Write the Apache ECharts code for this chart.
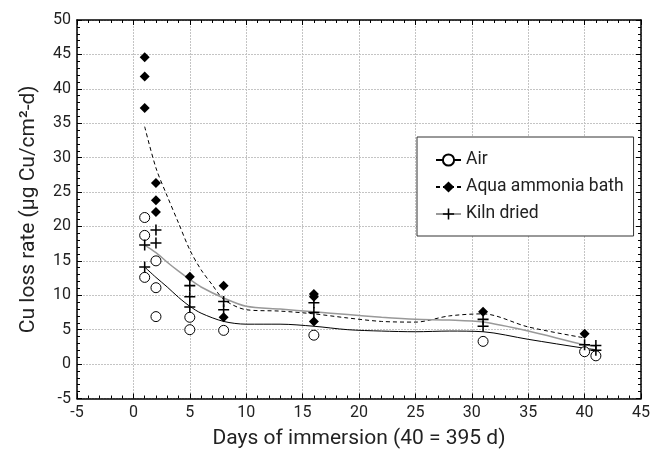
<!DOCTYPE html>
<html>
<head>
<meta charset="utf-8">
<script src="https://cdn.jsdelivr.net/npm/echarts@6/dist/echarts.min.js"></script>
<style>
  html, body { margin: 0; padding: 0; background: #fff; }
  #chart { width: 653px; height: 458px; }
</style>
</head>
<body>
<div id="chart"></div>
<script>
// measured points (days, rate)
const airDays = [1, 1, 1, 2, 2, 2, 5, 5, 8, 16, 31, 40, 41];
const airRate = [21.3, 18.7, 12.6, 15.0, 11.1, 6.9, 6.8, 5.0, 4.9, 4.2, 3.3, 1.8, 1.2];
const aquaDays = [1, 1, 1, 2, 2, 2, 5, 8, 8, 16, 16, 16, 31, 40];
const aquaRate = [44.6, 41.8, 37.2, 26.3, 23.8, 22.1, 12.7, 11.4, 6.8, 10.2, 9.8, 6.2, 7.6, 4.4];
const kilnDays = [1, 1, 2, 2, 5, 5, 5, 8, 8, 16, 16, 31, 31, 40, 41, 41];
const kilnRate = [17.3, 14.1, 19.5, 17.6, 11.4, 9.8, 8.3, 9.1, 7.9, 8.9, 7.5, 6.5, 5.5, 2.8, 2.7, 2.0];

// fitted curves
const fitDays = [1, 2, 3, 4, 5, 6, 8, 10, 13, 16, 19, 22, 25, 28, 31, 35, 40, 41];
const airFit = [14.1, 12.6, 11.2, 9.7, 8.4, 7.4, 6.2, 5.8, 5.8, 5.5, 5.0, 4.8, 4.7, 4.8, 4.7, 3.6, 2.3, 2.1];
const kilnFit = [17.3, 16.2, 14.8, 13.5, 12.3, 11.2, 9.6, 8.4, 8.0, 7.6, 7.2, 6.8, 6.5, 6.4, 6.1, 4.8, 2.8, 2.6];
const aquaFitDays = [1, 2, 3, 4, 5, 6, 7, 8, 10, 13, 16, 19, 22, 25, 28, 31, 35, 40];
const aquaFit = [34.5, 28.5, 24.4, 20.5, 16.6, 13.7, 11.5, 9.4, 7.9, 7.7, 7.3, 6.7, 6.2, 6.1, 7.0, 7.3, 5.4, 3.8];

const seriesNames = ["Air", "Aqua ammonia bath", "Kiln dried"];

const font = "Roboto, 'Liberation Sans', sans-serif";
const crossPath = "path://M4.3,0H5.7V4.3H10V5.7H5.7V10H4.3V5.7H0V4.3H4.3Z";

const pairs = (xs, ys) => xs.map((x, i) => [x, ys[i]]);

const axisLine = { show: true, onZero: false, lineStyle: { color: "#000", width: 1.5 } };
const axisTick = { show: true, inside: true, length: 5, lineStyle: { color: "#000" } };
const minorTick = { show: true, splitNumber: 5, length: 3, lineStyle: { color: "#000" } };
const gridLine = { show: true, lineStyle: { color: "#c4c4c4", type: [2, 1] } };
const tickLabel = { fontFamily: font, fontSize: 16, color: "#222", margin: 6 };
const nameStyle = { fontFamily: font, fontSize: 21, color: "#222" };

const frameAxis = {
  type: "value",
  axisLine: axisLine,
  axisTick: axisTick,
  minorTick: minorTick,
  splitLine: { show: false },
  axisLabel: { show: false }
};

const option = {
  animation: false,
  textStyle: { fontFamily: font },
  grid: { left: 77, right: 12, top: 20, bottom: 59.5 },
  legend: {
    orient: "vertical",
    left: 417,
    top: 137,
    padding: [14, 10, 13, 18],
    itemWidth: 25,
    itemHeight: 14,
    itemGap: 9,
    borderColor: "#333",
    borderWidth: 1,
    backgroundColor: "#fff",
    textStyle: { fontFamily: font, fontSize: 17.5, color: "#222" },
    data: seriesNames
  },
  xAxis: [
    {
      type: "value",
      min: -5,
      max: 45,
      interval: 5,
      name: "Days of immersion (40 = 395 d)",
      nameLocation: "middle",
      nameGap: 30,
      nameTextStyle: nameStyle,
      axisLine: axisLine,
      axisTick: axisTick,
      minorTick: minorTick,
      splitLine: gridLine,
      axisLabel: tickLabel
    },
    Object.assign({}, frameAxis, { position: "top", min: -5, max: 45, interval: 5 })
  ],
  yAxis: [
    {
      type: "value",
      min: -5,
      max: 50,
      interval: 5,
      name: "Cu loss rate (µg Cu/cm²-d)",
      nameLocation: "middle",
      nameGap: 38,
      nameTextStyle: nameStyle,
      axisLine: axisLine,
      axisTick: axisTick,
      minorTick: minorTick,
      splitLine: gridLine,
      axisLabel: tickLabel
    },
    Object.assign({}, frameAxis, { position: "right", min: -5, max: 50, interval: 5 })
  ],
  series: [
    {
      name: "Air",
      type: "line",
      smooth: 0.3,
      showSymbol: false,
      symbol: "circle",
      symbolSize: 9,
      itemStyle: { color: "#fff", borderColor: "#000", borderWidth: 1 },
      lineStyle: { color: "#000", width: 1 },
      data: pairs(fitDays, airFit),
      z: 2
    },
    {
      name: "Aqua ammonia bath",
      type: "line",
      smooth: 0.3,
      showSymbol: false,
      symbol: "diamond",
      symbolSize: 10,
      itemStyle: { color: "#000" },
      lineStyle: { color: "#000", width: 1, type: [4, 3] },
      data: pairs(aquaFitDays, aquaFit),
      z: 2
    },
    {
      name: "Kiln dried",
      type: "line",
      smooth: 0.3,
      showSymbol: false,
      symbol: crossPath,
      symbolSize: 10,
      itemStyle: { color: "#000" },
      lineStyle: { color: "#999", width: 1.5 },
      data: pairs(fitDays, kilnFit),
      z: 2
    },
    {
      name: "Air",
      type: "scatter",
      symbol: "circle",
      symbolSize: 10,
      itemStyle: { color: "#fff", borderColor: "#000", borderWidth: 1, opacity: 1 },
      data: pairs(airDays, airRate),
      z: 3
    },
    {
      name: "Aqua ammonia bath",
      type: "scatter",
      symbol: "diamond",
      symbolSize: 10,
      itemStyle: { color: "#000", opacity: 1 },
      data: pairs(aquaDays, aquaRate),
      z: 4
    },
    {
      name: "Kiln dried",
      type: "scatter",
      symbol: crossPath,
      symbolSize: 11,
      itemStyle: { color: "#000", opacity: 1 },
      data: pairs(kilnDays, kilnRate),
      z: 5
    }
  ]
};

const myChart = echarts.init(document.getElementById("chart"));
myChart.setOption(option);
</script>
</body>
</html>
